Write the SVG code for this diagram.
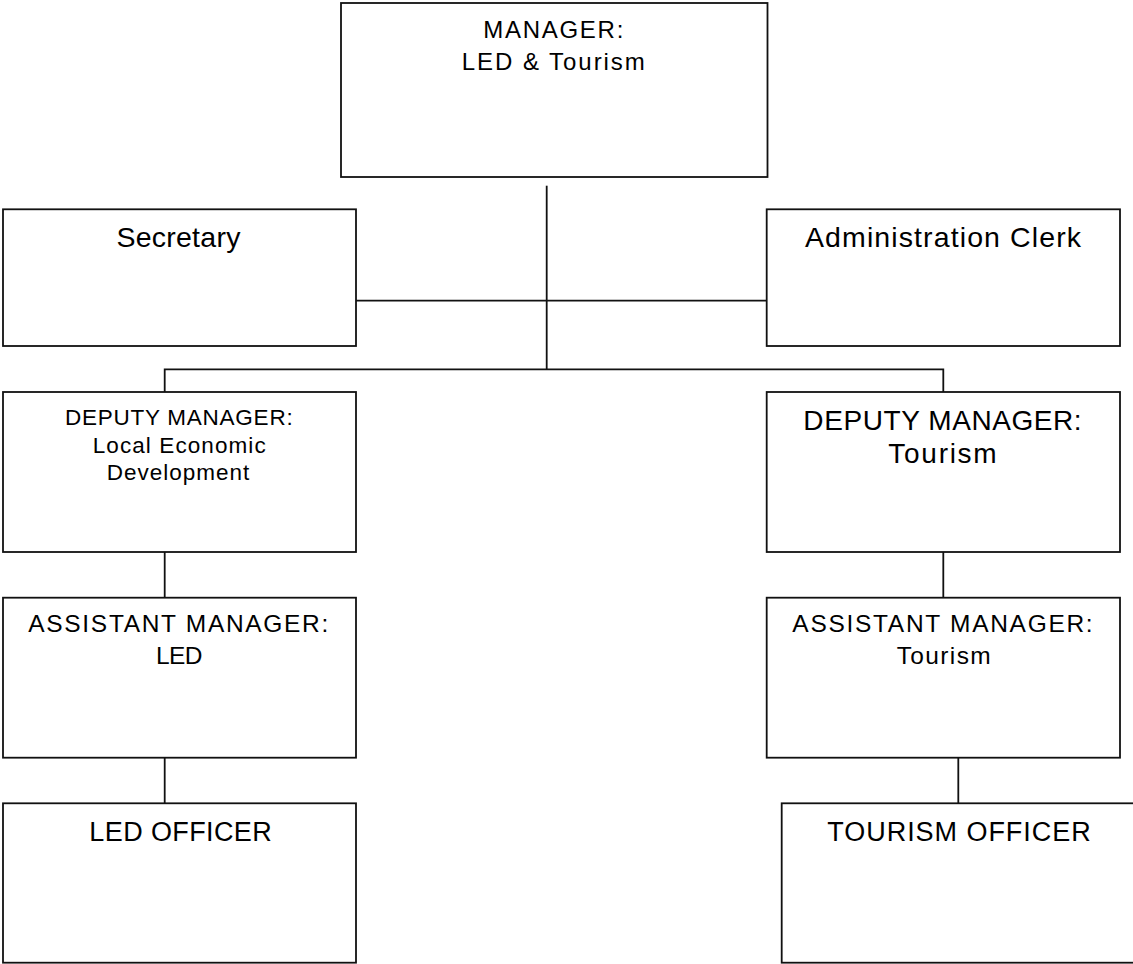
<svg xmlns="http://www.w3.org/2000/svg" width="1133" height="964" viewBox="0 0 1133 964">
<style>
.box{fill:#fff;stroke:#111;stroke-width:1.8}
.ln{fill:none;stroke:#111;stroke-width:1.8}
text{font-family:"Liberation Sans",Arial,sans-serif;fill:#000;text-anchor:middle}
.s22{font-size:22.5px}.s23{font-size:24px}.s24{font-size:24.5px}.s27{font-size:27px}.s28{font-size:28.5px}.s28b{font-size:28px}
</style>
<rect width="1133" height="964" fill="#fff"/>
<g id="connectors">
<path class="ln" d="M546.7 185.7V369.3"/>
<path class="ln" d="M356 300.7H766.7"/>
<path class="ln" d="M164.7 392V369.3H943.3V392"/>
<path class="ln" d="M164.7 552V597.7"/>
<path class="ln" d="M943.3 552V597.7"/>
<path class="ln" d="M164.7 757.7V803.3"/>
<path class="ln" d="M958.3 757.7V803.3"/>
</g>
<g id="manager">
<rect class="box" x="341" y="3" width="426.5" height="174"/>
<text class="s23" x="553.3" y="38.3" textLength="140" lengthAdjust="spacing">MANAGER:</text>
<text class="s23" x="553.3" y="70" textLength="183" lengthAdjust="spacing">LED &amp; Tourism</text>
</g>
<g id="secretary">
<rect class="box" x="3" y="209.3" width="353" height="136.7"/>
<text class="s28" x="178.4" y="246.8" textLength="124" lengthAdjust="spacing">Secretary</text>
</g>
<g id="admin-clerk">
<rect class="box" x="766.7" y="209.3" width="353.3" height="136.7"/>
<text class="s28" x="943" y="247" textLength="276" lengthAdjust="spacing">Administration Clerk</text>
</g>
<g id="deputy-led">
<rect class="box" x="3" y="392" width="353" height="160"/>
<text class="s22" x="178.8" y="425" textLength="227.7" lengthAdjust="spacing">DEPUTY MANAGER:</text>
<text class="s22" x="179.2" y="452.7" textLength="173" lengthAdjust="spacing">Local Economic</text>
<text class="s22" x="178" y="479.7" textLength="142.7" lengthAdjust="spacing">Development</text>
</g>
<g id="deputy-tourism">
<rect class="box" x="766.7" y="392" width="353.3" height="160"/>
<text class="s28b" x="942.5" y="430" textLength="278.3" lengthAdjust="spacing">DEPUTY MANAGER:</text>
<text class="s28b" x="942.5" y="463.3" textLength="108.3" lengthAdjust="spacing">Tourism</text>
</g>
<g id="assistant-led">
<rect class="box" x="3" y="597.7" width="353" height="160"/>
<text class="s24" x="178.3" y="632.3" textLength="300" lengthAdjust="spacing">ASSISTANT MANAGER:</text>
<text class="s24" x="179.2" y="664" textLength="46.3" lengthAdjust="spacing">LED</text>
</g>
<g id="assistant-tourism">
<rect class="box" x="766.7" y="597.7" width="353.3" height="160"/>
<text class="s24" x="942.5" y="632.3" textLength="300.3" lengthAdjust="spacing">ASSISTANT MANAGER:</text>
<text class="s24" x="943.7" y="664" textLength="94" lengthAdjust="spacing">Tourism</text>
</g>
<g id="led-officer">
<rect class="box" x="3" y="803.3" width="353" height="159.4"/>
<text class="s27" x="180.5" y="840.7" textLength="182.3" lengthAdjust="spacing">LED OFFICER</text>
</g>
<g id="tourism-officer">
<rect class="box" x="781.7" y="803.3" width="400" height="159.4"/>
<text class="s27" x="959" y="840.7" textLength="263.3" lengthAdjust="spacing">TOURISM OFFICER</text>
</g>
</svg>
